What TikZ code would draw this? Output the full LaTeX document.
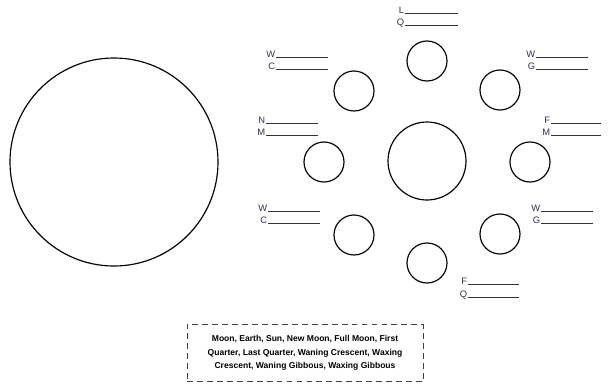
\documentclass[tikz,border=0pt]{standalone}
\usepackage{fontspec}
\setmainfont{Liberation Sans}
\usetikzlibrary{positioning}

\definecolor{labelink}{RGB}{45,50,75}

\tikzset{
    phase/.style={draw, circle, line width=1pt, minimum size=40*0.03cm, inner sep=0pt},
    letter/.style={text=labelink, font=\fontsize{8}{9}\selectfont, inner sep=0.5pt},
    blankline/.style={line width=0.8pt, black!80},
    wordbank/.style={draw=black!75, dash pattern=on 5pt off 3.5pt, line width=0.8pt,
        minimum width=236*0.03cm, minimum height=57*0.03cm, align=center,
        font=\bfseries\fontsize{7.3}{11.6}\selectfont}
}

% letter with a blank line after it
\newcommand{\fillblank}[4]{%
    \node[letter, anchor=base east] (#1) at (#2) {#3};
    \draw[blankline] (#1.base east) -- ++(#4,0);
}

\begin{document}
\begin{tikzpicture}[x=0.03cm, y=-0.03cm]
    \useasboundingbox (0,0) rectangle (610,383);

    % Sun
    \node[draw, circle, line width=1pt, minimum size=208*0.03cm, inner sep=0pt] (sun) at (114,162) {};

    % Earth
    \node[draw, circle, line width=1pt, minimum size=78*0.03cm, inner sep=0pt] (earth) at (427,161) {};

    % Moon positions
    \foreach \name/\pos in {top/{427,61}, topleft/{354,91}, topright/{500,90},
                            left/{324,162}, right/{530,162},
                            botleft/{354,235}, botright/{500,234}, bottom/{427,263}}
        \node[phase] (\name) at (\pos) {};

    % Blanks
    \fillblank{ltop}{405,13}{L}{53}
    \fillblank{qtop}{405,25}{Q}{53}

    \fillblank{wtl}{276,57}{W}{52}
    \fillblank{ctl}{276,69}{C}{52}

    \fillblank{wtr}{536,57}{W}{52}
    \fillblank{gtr}{536,69}{G}{52}

    \fillblank{nleft}{266,123}{N}{52}
    \fillblank{mleft}{266,135}{M}{52}

    \fillblank{fright}{551,123}{F}{50}
    \fillblank{mright}{551,135}{M}{50}

    \fillblank{wbl}{268,211}{W}{52}
    \fillblank{cbl}{268,223}{C}{52}

    \fillblank{wbr}{541,211}{W}{52}
    \fillblank{gbr}{541,223}{G}{52}

    \fillblank{fbot}{468,284}{F}{51}
    \fillblank{qbot}{468,297}{Q}{51}

    % Word bank
    \node[wordbank] (bank) at (305,353) {Moon, Earth, Sun, New Moon, Full Moon, First\\
        Quarter, Last Quarter, Waning Crescent, Waxing\\
        Crescent, Waning Gibbous, Waxing Gibbous};
\end{tikzpicture}
\end{document}
